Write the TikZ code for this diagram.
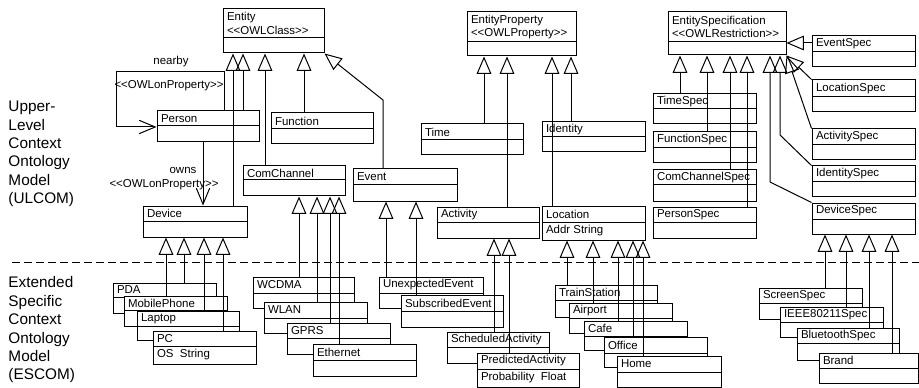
\documentclass[tikz,border=0pt]{standalone}
\usepackage{fontspec}
\setmainfont{Liberation Sans}
\usetikzlibrary{arrows.meta,fit}
\newcommand\stereo[1]{<\kern0pt<#1>\kern0pt>}
% #1 name, #2 left, #3 top, #4 right, #5 divider, #6 bottom, #7 title
\newcommand\umlbox[7]{%
  \node[cls, fit={(#2,#3) (#4,#6)}] (#1) {};
  \draw (#2,#5) -- (#4,#5);
  \node[ctext] (#1-t) at ({#2+3.5},{(#3+#5)/2}) {#7};
}
% same with an attribute #8
\newcommand\umlboxa[8]{%
  \umlbox{#1}{#2}{#3}{#4}{#5}{#6}{#7}%
  \node[ctext] (#1-a) at ({#2+3.5},{(#5+#6)/2}) {#8};
}
\begin{document}
\begin{tikzpicture}[x=0.75pt,y=-0.75pt,line width=0.75pt,
  cls/.style={draw,fill=white,inner sep=0pt},
  ctext/.style={anchor=west,inner sep=0pt,align=left,font=\fontsize{8.6}{10.2}\selectfont},
  lbl/.style={inner sep=0pt,font=\fontsize{8.6}{10.2}\selectfont},
  gen/.style={-{Triangle[open,length=13pt,width=11pt]}},
  assoc/.style={-{Straight Barb[length=12pt,width=10pt]}},
  side/.style={anchor=west,align=left,inner sep=0pt,font=\fontsize{11.5}{13.8}\selectfont}]
\fill[white] (0,0) rectangle (919,388);
\useasboundingbox (0,0) rectangle (919,388);

% side labels
\node[side] (ulcom) at (8,154) {Upper-\\Level\\Context\\Ontology\\Model\\(ULCOM)};
\node[side] (escom) at (8,330) {Extended\\Specific\\Context\\Ontology\\Model\\(ESCOM)};

% upper level
\umlbox{Entity}{223}{9}{324}{38}{53}{Entity\\\stereo{OWLClass}}
\umlbox{EP}{467}{12}{576}{42}{56}{EntityProperty\\\stereo{OWLProperty}}
\umlbox{ES}{668}{12}{786}{42}{55}{EntitySpecification\\\stereo{OWLRestriction}}
\umlbox{EventSpec}{812}{36}{915}{52}{67}{EventSpec}
\umlbox{LocationSpec}{812}{80}{915}{97}{112}{LocationSpec}
\umlbox{ActivitySpec}{812}{129}{915}{145}{160}{ActivitySpec}
\umlbox{IdentitySpec}{812}{166}{915}{182}{197}{IdentitySpec}
\umlbox{DeviceSpec}{812}{203}{915}{219}{234}{DeviceSpec}
\umlbox{TimeSpec}{653}{94}{756}{109}{124}{TimeSpec}
\umlbox{FunctionSpec}{653}{132}{756}{148}{163}{FunctionSpec}
\umlbox{ComChannelSpec}{653}{170}{756}{185}{201}{ComChannelSpec}
\umlbox{PersonSpec}{653}{207}{756}{222}{238}{PersonSpec}
\umlbox{Person}{157}{111}{259}{126}{142}{Person}
\umlbox{Function}{271}{113}{373}{129}{144}{Function}
\umlbox{Time}{421}{124}{523}{140}{155}{Time}
\umlbox{Identity}{542}{122}{645}{137}{152}{Identity}
\umlbox{ComChannel}{243}{166}{345}{180}{196}{ComChannel}
\umlbox{Event}{353}{169}{457}{185}{201}{Event}
\umlbox{Device}{143}{206}{247}{221}{237}{Device}
\umlbox{Activity}{437}{207}{539}{222}{238}{Activity}
\umlboxa{Location}{542}{206}{645}{222}{240}{Location}{Addr String}

% lower level
\umlbox{PDA}{113}{283}{216}{297}{313}{PDA}
\umlbox{MobilePhone}{124}{296}{227}{310}{326}{MobilePhone}
\umlbox{Laptop}{137}{311}{239}{326}{340}{Laptop}
\umlboxa{PC}{153}{331}{256}{346}{364}{PC}{OS\ \ String}
\umlbox{WCDMA}{253}{277}{354}{293}{308}{WCDMA}
\umlbox{WLAN}{264}{302}{367}{318}{333}{WLAN}
\umlbox{GPRS}{287}{323}{390}{338}{354}{GPRS}
\umlbox{Ethernet}{313}{344}{416}{360}{376}{Ethernet}
\umlbox{UnexpectedEvent}{379}{277}{483}{293}{308}{UnexpectedEvent}
\umlbox{SubscribedEvent}{401}{295}{503}{311}{327}{SubscribedEvent}
\umlbox{ScheduledActivity}{447}{332}{549}{347}{363}{ScheduledActivity}
\umlboxa{PredictedActivity}{477}{353}{579}{369}{387}{PredictedActivity}{Probability\ \ Float}
\umlbox{TrainStation}{555}{285}{657}{300}{317}{TrainStation}
\umlbox{Airport}{569}{303}{672}{318}{333}{Airport}
\umlbox{Cafe}{584}{321}{687}{336}{350}{Cafe}
\umlbox{Office}{604}{337}{707}{353}{367}{Office}
\umlbox{Home}{617}{356}{721}{372}{387}{Home}
\umlbox{ScreenSpec}{759}{288}{862}{303}{319}{ScreenSpec}
\umlbox{IEEE}{780}{307}{883}{322}{337}{IEEE80211Spec}
\umlbox{BluetoothSpec}{797}{328}{899}{343}{360}{BluetoothSpec}
\umlbox{Brand}{819}{353}{918}{368}{383}{Brand}

% separator
\draw[dash pattern=on 6pt off 3pt] (12,262) -- (919,262);

% association labels
\node[lbl] (nearbyl) at (171,62) {nearby};
\node[lbl] (nearbys) at (169,86) {\stereo{OWLonProperty}};
\node[lbl] (ownsl) at (183,170) {owns};
\node[lbl] (ownss) at (164,185) {\stereo{OWLonProperty}};

% associations
\draw[assoc] (Person.north -| 224,0) -- (224,72) -- (116,72) -- (116,127) -- (Person.west |- 0,127);
\draw[assoc] (Person.south -| 203,0) -- (Device.north -| 203,0);

% generalizations to Entity
\draw[gen] (Device.north -| 233,0) -- (Entity.south -| 233,0);
\draw[gen] (Person.north -| 243,0) -- (Entity.south -| 243,0);
\draw[gen] (ComChannel.north -| 265,0) -- (Entity.south -| 265,0);
\draw[gen] (Function.north -| 304,0) -- (Entity.south -| 304,0);
\draw[gen] (Event.north -| 383,0) -- (383,100) -- (Entity.south east);

% to EntityProperty
\draw[gen] (Time.north -| 484,0) -- (EP.south -| 484,0);
\draw[gen] (Activity.north -| 507,0) -- (EP.south -| 507,0);
\draw[gen] (Location.north -| 552,0) -- (EP.south -| 552,0);
\draw[gen] (Identity.north -| 571,0) -- (EP.south -| 571,0);

% to EntitySpecification
\draw[gen] (TimeSpec.north -| 680,0) -- (ES.south -| 680,0);
\draw[gen] (FunctionSpec.north -| 707,0) -- (ES.south -| 707,0);
\draw[gen] (ComChannelSpec.north -| 730,0) -- (ES.south -| 730,0);
\draw[gen] (PersonSpec.north -| 747,0) -- (ES.south -| 747,0);
\draw[gen] (DeviceSpec.north west) -- (770,182) -- (ES.south -| 770,0);
\draw[gen] (IdentitySpec.north west) -- (780,135) -- (ES.south -| 780,0);
\draw[gen] (ActivitySpec.north west) -- (ES.south east);
\draw[gen] (LocationSpec.north west) -- (ES.south east);
\draw[gen] (EventSpec.west |- 0,43) -- (ES.east |- 0,43);

% to ComChannel
\draw[gen] (WCDMA.north -| 299,0) -- (ComChannel.south -| 299,0);
\draw[gen] (WLAN.north -| 317,0) -- (ComChannel.south -| 317,0);
\draw[gen] (GPRS.north -| 330,0) -- (ComChannel.south -| 330,0);
\draw[gen] (Ethernet.north -| 339,0) -- (ComChannel.south -| 339,0);

% to Device
\draw[gen] (MobilePhone.north -| 166,0) -- (Device.south -| 166,0);
\draw[gen] (PDA.north -| 184,0) -- (Device.south -| 184,0);
\draw[gen] (Laptop.north -| 204,0) -- (Device.south -| 204,0);
\draw[gen] (PC.north -| 223,0) -- (Device.south -| 223,0);

% to Event
\draw[gen] (UnexpectedEvent.north -| 386,0) -- (Event.south -| 386,0);
\draw[gen] (SubscribedEvent.north -| 416,0) -- (Event.south -| 416,0);

% to Activity
\draw[gen] (ScheduledActivity.north -| 494,0) -- (Activity.south -| 494,0);
\draw[gen] (PredictedActivity.north -| 509,0) -- (Activity.south -| 509,0);

% to Location
\draw[gen] (TrainStation.north -| 567,0) -- (Location.south -| 567,0);
\draw[gen] (Airport.north -| 593,0) -- (Location.south -| 593,0);
\draw[gen] (Cafe.north -| 618,0) -- (Location.south -| 618,0);
\draw[gen] (Office.north -| 633,0) -- (Location.south -| 633,0);
\draw[gen] (Home.north -| 643,0) -- (Location.south -| 643,0);

% to DeviceSpec
\draw[gen] (ScreenSpec.north -| 825,0) -- (DeviceSpec.south -| 825,0);
\draw[gen] (IEEE.north -| 846,0) -- (DeviceSpec.south -| 846,0);
\draw[gen] (BluetoothSpec.north -| 869,0) -- (DeviceSpec.south -| 869,0);
\draw[gen] (Brand.north -| 892,0) -- (DeviceSpec.south -| 892,0);
\end{tikzpicture}
\end{document}
